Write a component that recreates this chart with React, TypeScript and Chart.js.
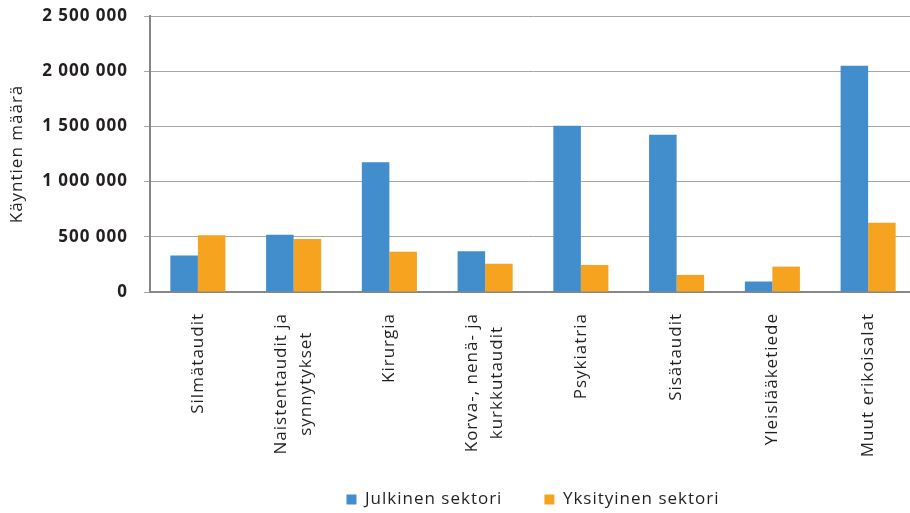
import React, { useEffect, useRef } from "react";
import { Chart, registerables } from "chart.js";

Chart.register(...registerables);

const CATEGORIES: string[][] = [
  ["Silmätaudit"],
  ["Naistentaudit ja", "synnytykset"],
  ["Kirurgia"],
  ["Korva-, nenä- ja", "kurkkutaudit"],
  ["Psykiatria"],
  ["Sisätaudit"],
  ["Yleislääketiede"],
  ["Muut erikoisalat"],
];
const JULKINEN = [330000, 518000, 1175000, 368000, 1505000, 1425000, 95000, 2050000];
const YKSITYINEN = [515000, 480000, 365000, 256000, 245000, 155000, 230000, 628000];
const SERIES_NAMES = ["Julkinen sektori", "Yksityinen sektori"];
const Y_TICKS = [0, 500000, 1000000, 1500000, 2000000, 2500000];
const Y_TITLE = "Käyntien määrä";

const FONT = "'Open Sans', 'Noto Sans', sans-serif";
const TEXT = "#231F20";
const BLUE = "#428DCB";
const ORANGE = "#F6A31F";
const GRID = "#A6A6A6";
const AXIS = "#878787";
const SPACING = "1px";

const fmt = (v: number) => String(v).replace(/\B(?=(\d{3})+(?!\d))/g, " ");

const spacingPlugin = {
  id: "spacing",
  beforeUpdate(chart: any) {
    chart.ctx.letterSpacing = SPACING;
  },
  beforeDraw(chart: any) {
    chart.ctx.letterSpacing = SPACING;
  },
};

const xLabelPlugin = {
  id: "xLabels",
  afterDraw(chart: any) {
    const ctx = chart.ctx;
    const xs = chart.scales.x;
    const top = chart.chartArea.bottom + 21;
    const lineH = 25;
    ctx.save();
    ctx.letterSpacing = SPACING;
    ctx.font = `17px ${FONT}`;
    ctx.fillStyle = TEXT;
    ctx.textAlign = "center";
    ctx.textBaseline = "middle";
    CATEGORIES.forEach((lines, i) => {
      const x = xs.getPixelForTick(i);
      const w = Math.max(...lines.map((l) => ctx.measureText(l).width));
      ctx.save();
      ctx.translate(x, top);
      ctx.rotate(-Math.PI / 2);
      lines.forEach((l, k) => {
        ctx.fillText(l, -w / 2, (k - (lines.length - 1) / 2) * lineH);
      });
      ctx.restore();
    });
    ctx.restore();
  },
};

export default function App() {
  const ref = useRef<HTMLCanvasElement | null>(null);

  useEffect(() => {
    if (!ref.current) return;
    const chart = new Chart(ref.current, {
      type: "bar",
      data: {
        labels: CATEGORIES.map((l) => l.join(" ")),
        datasets: [
          {
            label: SERIES_NAMES[0],
            data: JULKINEN,
            backgroundColor: BLUE,
            categoryPercentage: 0.575,
            barPercentage: 1,
          },
          {
            label: SERIES_NAMES[1],
            data: YKSITYINEN,
            backgroundColor: ORANGE,
            categoryPercentage: 0.575,
            barPercentage: 1,
          },
        ],
      },
      options: {
        responsive: false,
        animation: false,
        devicePixelRatio: 1,
        layout: { padding: { top: 16, right: 14, bottom: 0, left: 0 } },
        plugins: {
          tooltip: { enabled: false },
          legend: {
            position: "bottom",
            fullSize: false,
            maxHeight: 64,
            labels: {
              boxWidth: 10,
              boxHeight: 10,
              padding: 42,
              color: TEXT,
              font: { family: FONT, size: 17 },
            },
          },
        },
        scales: {
          x: {
            grid: { display: false },
            border: { display: true, color: AXIS, width: 2 },
            ticks: { display: false },
            afterFit: (s: any) => {
              s.height = 157;
            },
          },
          y: {
            min: 0,
            max: 2500000,
            afterBuildTicks: (s: any) => {
              s.ticks = Y_TICKS.map((v) => ({ value: v }));
            },
            afterFit: (s: any) => {
              s.width = 150;
              s.paddingTop = 0;
              s.paddingBottom = 0;
            },
            grid: { color: GRID, lineWidth: 1, tickLength: 6 },
            border: { display: true, color: AXIS, width: 2 },
            ticks: {
              padding: 16,
              color: TEXT,
              font: { family: FONT, size: 17, weight: "bold" },
              callback: (v: any) => fmt(Number(v)),
            },
            title: {
              display: true,
              text: Y_TITLE,
              color: TEXT,
              font: { family: FONT, size: 17 },
              padding: { top: 7, bottom: 0 },
            },
          },
        },
      },
      plugins: [spacingPlugin, xLabelPlugin],
    });
    return () => chart.destroy();
  }, []);

  return (
    <div
      style={{
        position: "fixed",
        left: 0,
        top: 0,
        width: 910,
        height: 513,
        overflow: "hidden",
        background: "#fff",
      }}
    >
      <canvas ref={ref} width={930} height={513} style={{ display: "block", width: 930, height: 513 }} />
    </div>
  );
}
